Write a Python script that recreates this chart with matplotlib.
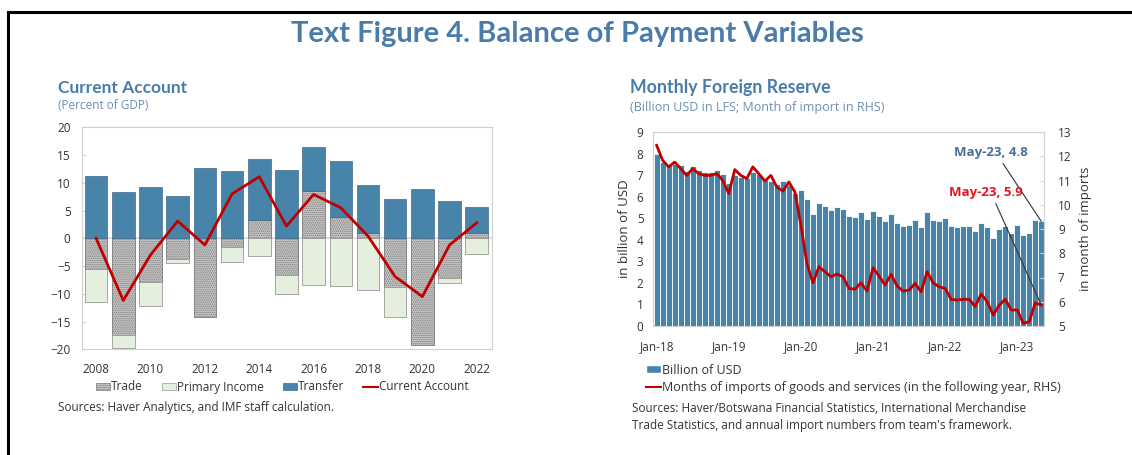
import matplotlib
matplotlib.use("Agg")
import matplotlib.pyplot as plt
import numpy as np
from matplotlib.patches import Patch
from matplotlib.lines import Line2D

plt.rcParams['font.family'] = ['Open Sans', 'DejaVu Sans']
plt.rcParams['hatch.linewidth'] = 0.7

# ---------------- data: current account ----------------
years = [2008, 2009, 2010, 2011, 2012, 2013, 2014, 2015, 2016, 2017, 2018, 2019, 2020, 2021, 2022]
trade = [-5.6, -17.5, -7.8, -3.7, -14.1, -1.6, 3.3, -6.7, 8.5, 3.8, 0.9, -8.7, -19.3, -7.2, 0.9]
primary_income = [-5.8, -2.2, -4.4, -0.7, 0.1, -2.6, -3.1, -3.4, -8.5, -8.6, -9.3, -5.4, 0.1, -0.9, -2.8]
transfer = [11.2, 8.3, 9.2, 7.6, 12.6, 12.1, 10.9, 12.3, 8.0, 10.2, 8.7, 7.0, 8.7, 6.7, 4.8]
current_account = [0.0, -11.2, -3.0, 3.1, -1.2, 8.0, 11.1, 2.2, 7.9, 5.5, 0.4, -6.9, -10.5, -1.2, 2.8]
ca_xticks = [2008, 2010, 2012, 2014, 2016, 2018, 2020, 2022]
ca_yticks = [-20, -15, -10, -5, 0, 5, 10, 15, 20]

# ---------------- data: monthly foreign reserve ----------------
reserve_bn = [8.0, 7.6, 7.45, 7.5, 7.45, 7.2, 7.4, 7.25, 7.15, 7.15, 7.25, 7.05,
              6.65, 7.0, 6.9, 6.85, 7.15, 7.05, 6.85, 6.75, 6.6, 6.75, 6.55, 6.15,
              6.3, 5.9, 5.2, 5.7, 5.55, 5.4, 5.5, 5.45, 5.1, 5.05, 5.3, 4.95,
              5.35, 5.1, 4.85, 5.2, 4.8, 4.65, 4.7, 4.9, 4.6, 5.3, 4.9, 4.85,
              5.0, 4.65, 4.6, 4.65, 4.65, 4.4, 4.8, 4.6, 4.1, 4.5, 4.65, 4.3,
              4.7, 4.2, 4.3, 4.9, 4.85]
import_months = [12.45, 11.83, 11.56, 11.76, 11.49, 11.21, 11.49, 11.28, 11.21, 11.21, 11.28, 11.0,
                 10.46, 11.45, 11.21, 11.08, 11.56, 11.28, 10.98, 11.21, 10.73, 10.56, 10.94, 10.53,
                 9.16, 7.58, 6.78, 7.44, 7.24, 7.03, 7.14, 7.03, 6.55, 6.52, 6.78, 6.44,
                 7.40, 7.06, 6.69, 7.13, 6.65, 6.44, 6.48, 6.76, 6.41, 7.24, 6.78, 6.62,
                 6.55, 6.10, 6.07, 6.10, 6.10, 5.80, 6.32, 6.00, 5.45, 5.86, 6.10, 5.66,
                 5.66, 5.11, 5.18, 5.96, 5.86]
month_xlabels = ['Jan-18', 'Jan-19', 'Jan-20', 'Jan-21', 'Jan-22', 'Jan-23']
res_yticks = list(range(0, 10))
imp_yticks = list(range(5, 14))

# ---------------- styling ----------------
W, H = 1132, 455
BLUE_T = '#4a7cab'
BAR_BLUE = '#4884aa'
RED = '#c00000'
FRAME = '#d0d0d0'
TXT = '#333333'
TRADE_FC = '#c9c9c9'
TRADE_EC = '#7a7a7a'
PI_FC = '#e4efdd'
PI_EC = '#9a9a9a'

fig = plt.figure(figsize=(W / 100, H / 100), dpi=100)


def fx(x):
    return x / W


def fy(y):
    return 1 - y / H


# border lines
fig.add_artist(Line2D([fx(8), fx(1132)], [fy(12), fy(12)], color='black', lw=2.2))
fig.add_artist(Line2D([fx(8), fx(8)], [fy(12), fy(455)], color='black', lw=2.2))

fig.text(fx(577), fy(34), 'Text Figure 4. Balance of Payment Variables', ha='center', va='center',
         fontsize=21, fontweight='bold', color=BLUE_T, family=['Lato', 'DejaVu Sans'])

fig.text(fx(58), fy(88), 'Current Account', ha='left', va='center', fontsize=12.5,
         fontweight='bold', color=BLUE_T, family=['Lato', 'DejaVu Sans'])
fig.text(fx(58), fy(105), '(Percent of GDP)', ha='left', va='center', fontsize=8.5,
         color='#6d8fb3')
fig.text(fx(630), fy(88), 'Monthly Foreign Reserve', ha='left', va='center', fontsize=12.8,
         fontweight='bold', color=BLUE_T, family=['Lato', 'DejaVu Sans'])
fig.text(fx(630), fy(107), '(Billion USD in LFS; Month of import in RHS)', ha='left', va='center',
         fontsize=9, color='#6d8fb3')

# ---------------- left chart ----------------
ax1 = fig.add_axes([fx(81.7), fy(349.3), fx(491.7) - fx(81.7), fy(127.3) - fy(349.3)])
x = np.array(years, dtype=float)
pos_bottom = np.zeros(len(years))
neg_bottom = np.zeros(len(years))
series = [
    (trade, dict(facecolor=TRADE_FC, edgecolor=TRADE_EC, hatch='........', linewidth=0.6)),
    (primary_income, dict(facecolor=PI_FC, edgecolor=PI_EC, linewidth=0.6)),
    (transfer, dict(facecolor=BAR_BLUE, edgecolor='#3b6a8a', linewidth=0.5)),
]
for vals, style in series:
    v = np.array(vals, dtype=float)
    bottoms = np.where(v >= 0, pos_bottom, neg_bottom)
    ax1.bar(x, v, width=0.83, bottom=bottoms, zorder=2, **style)
    pos_bottom = pos_bottom + np.where(v >= 0, v, 0)
    neg_bottom = neg_bottom + np.where(v < 0, v, 0)
ax1.axhline(0, color='#d9d9d9', lw=1.2, zorder=1)
ax1.plot(x, current_account, color=RED, lw=2, zorder=4)
ax1.set_xlim(2007.47, 2022.55)
ax1.set_ylim(-20, 20)
ax1.set_xticks(ca_xticks)
ax1.set_yticks(ca_yticks)
ax1.tick_params(axis='both', labelsize=8.5, colors=TXT, direction='in', length=3, color='#d0d0d0')
ax1.tick_params(axis='x', pad=10, length=0)
ax1.tick_params(axis='y', pad=8)
for s in ax1.spines.values():
    s.set_color(FRAME)
    s.set_linewidth(0.8)

handles1 = [Patch(facecolor=TRADE_FC, edgecolor=TRADE_EC, hatch='........', linewidth=0.5),
            Patch(facecolor=PI_FC, edgecolor=PI_EC, linewidth=0.5),
            Patch(facecolor=BAR_BLUE, edgecolor='#3b6a8a', linewidth=0.5),
            Line2D([0], [0], color=RED, lw=1.5)]
fig.legend(handles1, ['Trade', 'Primary Income', 'Transfer', 'Current Account'],
           loc='center', bbox_to_anchor=(fx(282), fy(387)), ncol=4, frameon=False,
           fontsize=8.5, handlelength=1.2, handleheight=0.6, handletextpad=0.1,
           columnspacing=1.6, labelcolor=TXT)
fig.text(fx(58), fy(407), 'Sources: Haver Analytics, and IMF staff calculation.', ha='left',
         va='center', fontsize=8.5, color=TXT)

# ---------------- right chart ----------------
ax2 = fig.add_axes([fx(653.3), fy(326), fx(1044) - fx(653.3), fy(132) - fy(326)])
m = np.arange(len(reserve_bn))
ax2.bar(m, reserve_bn, width=1.0, color=BAR_BLUE, edgecolor='white', linewidth=0.6, zorder=2)
ax2.set_xlim(-0.56, 64.45)
ax2.set_ylim(0, 9)
ax2.set_yticks(res_yticks)
ax2.set_xticks(np.arange(0, len(reserve_bn), 12))
ax2.set_xticklabels(month_xlabels)
ax2.set_ylabel('in billion of USD', fontsize=9.5, color=TXT, labelpad=4)
ax2.tick_params(axis='both', labelsize=8.5, colors=TXT, direction='in', length=3, color='#d0d0d0')
ax2.tick_params(axis='x', pad=10, length=0)
ax2.tick_params(axis='y', pad=7)
for s in ax2.spines.values():
    s.set_color(FRAME)
    s.set_linewidth(0.8)

ax3 = ax2.twinx()
ax3.plot(m, import_months, color=RED, lw=2, zorder=4)
ax3.set_ylim(5, 13)
ax3.set_yticks(imp_yticks)
ax3.set_ylabel('in month of imports', fontsize=9.5, color=TXT, labelpad=5)
ax3.tick_params(axis='y', labelsize=8.5, colors=TXT, direction='in', length=3, color='#d0d0d0', pad=10)
for s in ax3.spines.values():
    s.set_visible(False)

last = len(reserve_bn) - 1
ax2.annotate('May-23, %.1f' % 4.8, xy=(last, reserve_bn[last]), xycoords='data',
             xytext=(0.959, 0.892), textcoords='axes fraction', ha='right', va='center',
             fontsize=9.5, fontweight='bold', color='#4a6f9a', zorder=6,
             arrowprops=dict(arrowstyle='-', color='#333333', lw=0.8,
                             connectionstyle='arc,angleA=0,armA=5,angleB=90,armB=0,rad=0',
                             shrinkA=1, shrinkB=0))
ax3.annotate('May-23, %.1f' % 5.9, xy=(last, import_months[last]), xycoords='data',
             xytext=(0.946, 0.686), textcoords='axes fraction', ha='right', va='center',
             fontsize=9.5, fontweight='bold', color='#e8141c', zorder=6,
             arrowprops=dict(arrowstyle='-', color='#333333', lw=0.8,
                             connectionstyle='arc,angleA=0,armA=5,angleB=90,armB=0,rad=0',
                             shrinkA=1, shrinkB=0))

handles2 = [Patch(facecolor=BAR_BLUE, edgecolor='white'), Line2D([0], [0], color=RED, lw=1.5)]
fig.legend(handles2, ['Billion of USD',
                      'Months of imports of goods and services (in the following year, RHS)'],
           loc='upper left', bbox_to_anchor=(fx(638), fy(356)), ncol=1, frameon=False,
           fontsize=9, handlelength=1.2, handleheight=0.6, handletextpad=0.1,
           labelspacing=0.35, labelcolor=TXT, borderpad=0.1)
fig.text(fx(632), fy(408), 'Sources: Haver/Botswana Financial Statistics, International Merchandise',
         ha='left', va='center', fontsize=8.5, color=TXT)
fig.text(fx(632), fy(425), "Trade Statistics, and annual import numbers from team's framework.",
         ha='left', va='center', fontsize=8.5, color=TXT)

fig.savefig('out.png', dpi=100)
